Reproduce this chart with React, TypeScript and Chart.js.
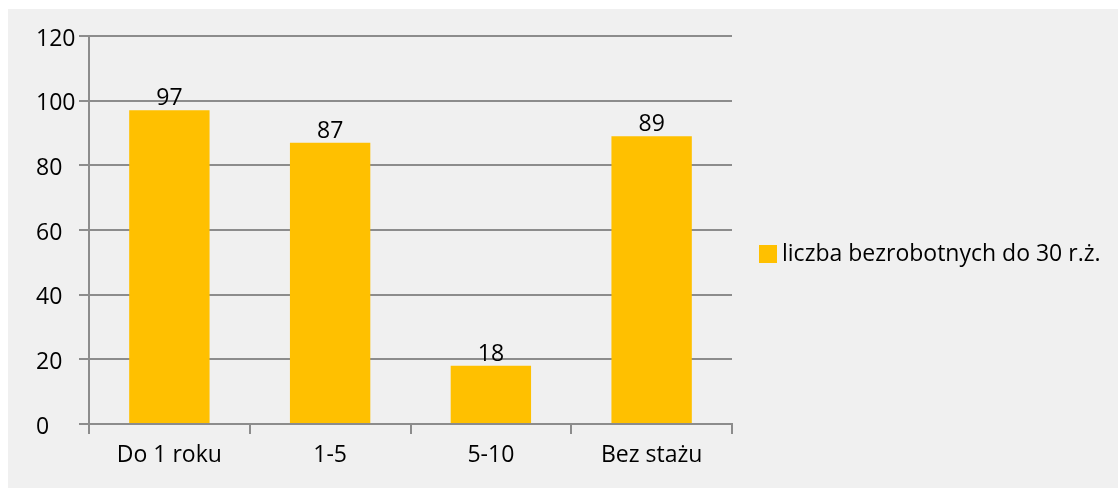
import React, { useEffect, useRef } from "react";
import { Chart, registerables } from "chart.js";

Chart.register(...registerables);

const categories = ["Do 1 roku", "1-5", "5-10", "Bez stażu"];
const values = [97, 87, 18, 89];
const seriesLabel = "liczba bezrobotnych do 30 r.ż.";
const yMin = 0;
const yMax = 120;
const yStep = 20;

const FONT = "'Open Sans', 'Noto Sans', sans-serif";
const FONT_SIZE = 23;
const BAR_COLOR = "#FFC000";
const GRID_COLOR = "#8c8c8c";
const BG = "#f0f0f0";

const dataLabels = {
  id: "dataLabels",
  afterDatasetsDraw(chart: any) {
    const ctx = chart.ctx;
    const meta = chart.getDatasetMeta(0);
    ctx.save();
    ctx.font = `${FONT_SIZE}px ${FONT}`;
    ctx.fillStyle = "#000";
    ctx.textAlign = "center";
    ctx.textBaseline = "alphabetic";
    meta.data.forEach((bar: any, i: number) => {
      ctx.fillText(String(values[i]), bar.x, bar.y - 5);
    });
    ctx.restore();
  },
};

const sideLegend = {
  id: "sideLegend",
  afterDraw(chart: any) {
    const ctx = chart.ctx;
    const area = chart.chartArea;
    const x = area.right + 27;
    const yMid = (area.top + area.bottom) / 2 + 24;
    ctx.save();
    ctx.fillStyle = BAR_COLOR;
    ctx.fillRect(x, yMid - 9, 18, 18);
    ctx.font = `${FONT_SIZE}px ${FONT}`;
    ctx.fillStyle = "#000";
    ctx.textAlign = "left";
    ctx.textBaseline = "middle";
    ctx.fillText(seriesLabel, x + 23, yMid);
    ctx.restore();
  },
};

export default function App() {
  const ref = useRef<HTMLCanvasElement | null>(null);

  useEffect(() => {
    if (!ref.current) return;
    const chart = new Chart(ref.current, {
      type: "bar",
      data: {
        labels: categories,
        datasets: [
          {
            label: seriesLabel,
            data: values,
            backgroundColor: BAR_COLOR,
            borderWidth: 0,
            categoryPercentage: 1,
            barPercentage: 0.5,
          },
        ],
      },
      options: {
        responsive: false,
        animation: false,
        layout: { padding: { left: 28, top: 27, right: 386, bottom: 0 } },
        plugins: {
          legend: { display: false },
          tooltip: { enabled: false },
        },
        scales: {
          y: {
            min: yMin,
            max: yMax,
            ticks: {
              stepSize: yStep,
              color: "#000",
              font: { family: FONT, size: FONT_SIZE },
              padding: 6,
              crossAlign: "far",
              labelOffset: 3,
            },
            grid: {
              color: GRID_COLOR,
              lineWidth: 2,
              tickLength: 10,
              drawTicks: true,
            },
            border: { display: true, color: GRID_COLOR, width: 2 },
            afterFit: (scale: any) => {
              scale.width = 53;
            },
          },
          x: {
            ticks: {
              color: "#000",
              font: { family: FONT, size: FONT_SIZE },
              padding: 8,
            },
            grid: {
              offset: true,
              drawOnChartArea: false,
              drawTicks: true,
              tickLength: 10,
              color: GRID_COLOR,
              lineWidth: 2,
            },
            border: { display: true, color: GRID_COLOR, width: 2 },
            afterFit: (scale: any) => {
              scale.height = 64;
            },
          },
        },
      },
      plugins: [dataLabels, sideLegend],
    });
    return () => chart.destroy();
  }, []);

  return (
    <div
      style={{
        position: "fixed",
        left: 8,
        top: 9,
        width: 1110,
        height: 479,
        background: BG,
      }}
    >
      <canvas ref={ref} width={1110} height={479} style={{ display: "block" }} />
    </div>
  );
}
